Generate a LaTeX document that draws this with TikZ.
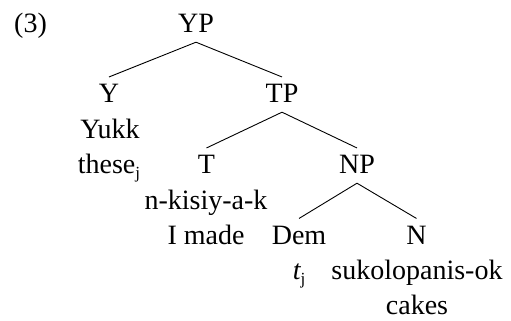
\documentclass[tikz,border=0pt]{standalone}
\usepackage{fontspec}
\setmainfont{Liberation Serif}
\newcommand\subj{\raisebox{-4.5pt}{\fontsize{17}{17}\selectfont j}}
\begin{document}
\begin{tikzpicture}[x=1pt,y=-1pt,
  word/.style={inner sep=0pt,anchor=base,font=\fontsize{28}{34}\selectfont},
  branch/.style={line width=0.9pt}]
\useasboundingbox (0,0) rectangle (511,321);
% example number
\node[word,anchor=base west] (num) at (14,33) {(3)};
% categories
\node[word] (YP)  at (196,32.5) {YP};
\node[word] (Y)   at (109,102.5) {Y};
\node[word] (TP)  at (282,102.5) {TP};
\node[word] (T)   at (206.5,173.5) {T};
\node[word] (NP)  at (357,173.5) {NP};
\node[word] (Dem) at (299,244) {Dem};
\node[word] (N)   at (416.5,244) {N};
% lexical material
\node[word] (yukk)  at (110,138) {Yukk};
\node[word] (these) at (109,173.5) {these\subj};
\node[word] (verb)  at (206,209) {n-kisiy-a-k};
\node[word] (gloss) at (206,244) {I made};
\node[word] (trace) at (299,279.5) {\itshape t\upshape\subj};
\node[word] (noun)  at (417,279.5) {sukolopanis-ok};
\node[word] (cakes) at (417,314.5) {cakes};
% branches
\foreach \p/\c in {YP/Y, YP/TP, TP/T, TP/NP, NP/Dem, NP/N}
  \draw[branch] ([yshift=-9.5pt]\p.south) -- ([yshift=7pt]\c.north);
\end{tikzpicture}
\end{document}
